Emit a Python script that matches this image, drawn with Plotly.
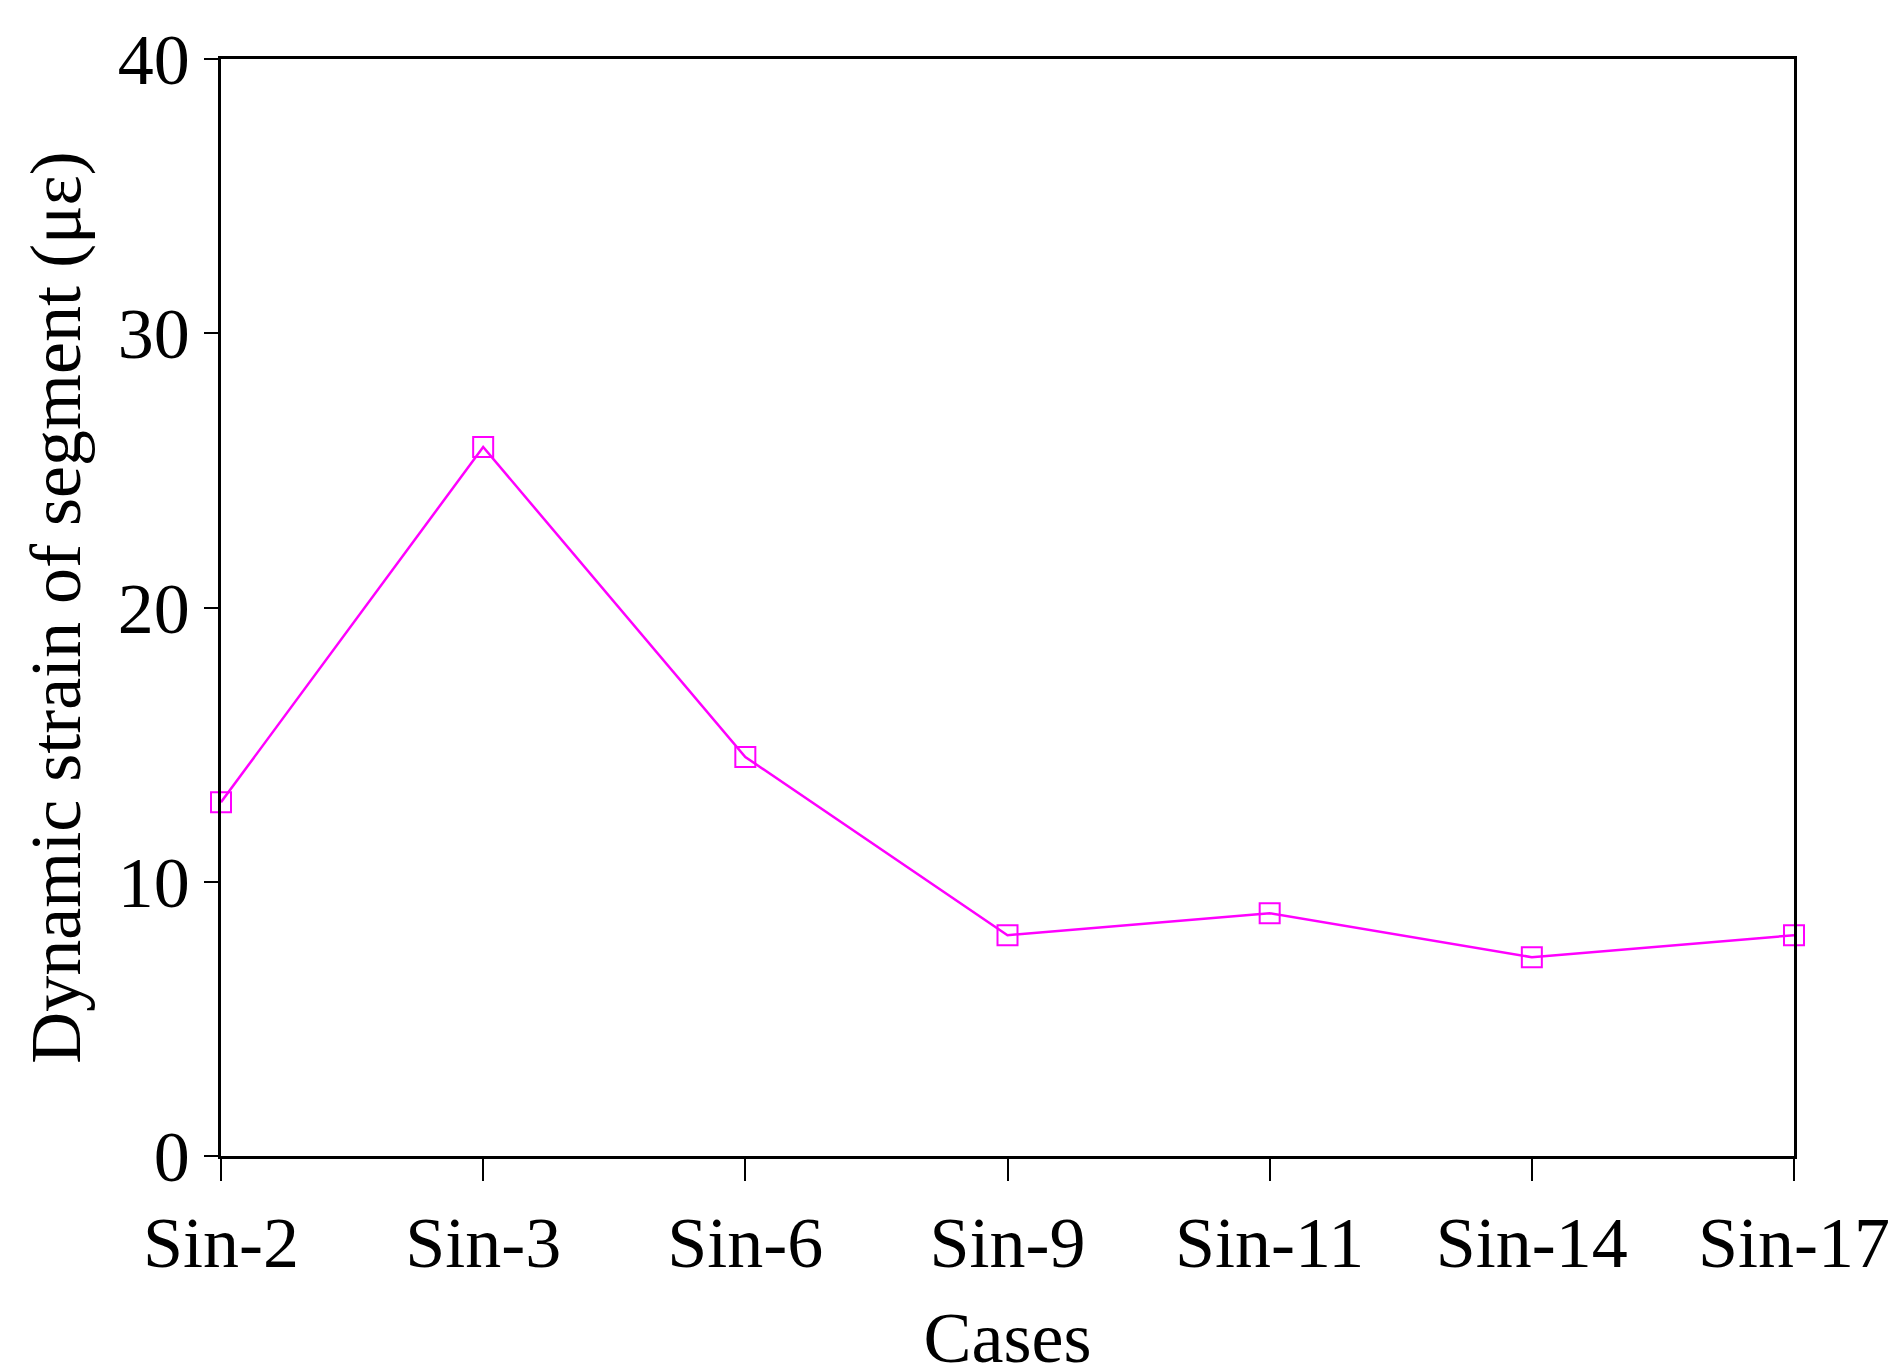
import plotly.graph_objects as go

# data
cases = ["Sin-2", "Sin-3", "Sin-6", "Sin-9", "Sin-11", "Sin-14", "Sin-17"]
strain = [12.9, 25.85, 14.55, 8.05, 8.85, 7.25, 8.05]

font = dict(family="Liberation Serif, Times New Roman, serif", size=72, color="black")

fig = go.Figure()
fig.add_trace(go.Scatter(
    x=cases, y=strain, mode="lines+markers",
    line=dict(color="#ff00ff", width=2.5),
    marker=dict(symbol="square-open", size=20, color="#ff00ff", line=dict(width=2)),
    cliponaxis=False,
))

fig.update_layout(
    width=1904, height=1372,
    margin=dict(l=213, r=118, t=45, b=224),
    plot_bgcolor="white", paper_bgcolor="white",
    font=font, showlegend=False,
)
fig.update_xaxes(
    type="category", range=[0, 6],
    showline=True, linecolor="black", linewidth=2.5, mirror=True,
    ticks="outside", ticklen=22, tickwidth=2, tickcolor="black",
    showgrid=False, zeroline=False,
    title=dict(text="Cases", font=font, standoff=30),
)
fig.update_yaxes(
    range=[0, 40], tickvals=[0, 10, 20, 30, 40],
    showline=True, linecolor="black", linewidth=2.5, mirror=True,
    ticks="outside", ticklen=14, tickwidth=2, tickcolor="black",
    showgrid=False, zeroline=False,
    title=dict(text="Dynamic strain of segment (με)", font=font, standoff=14),
)

fig.write_html("out.html")
